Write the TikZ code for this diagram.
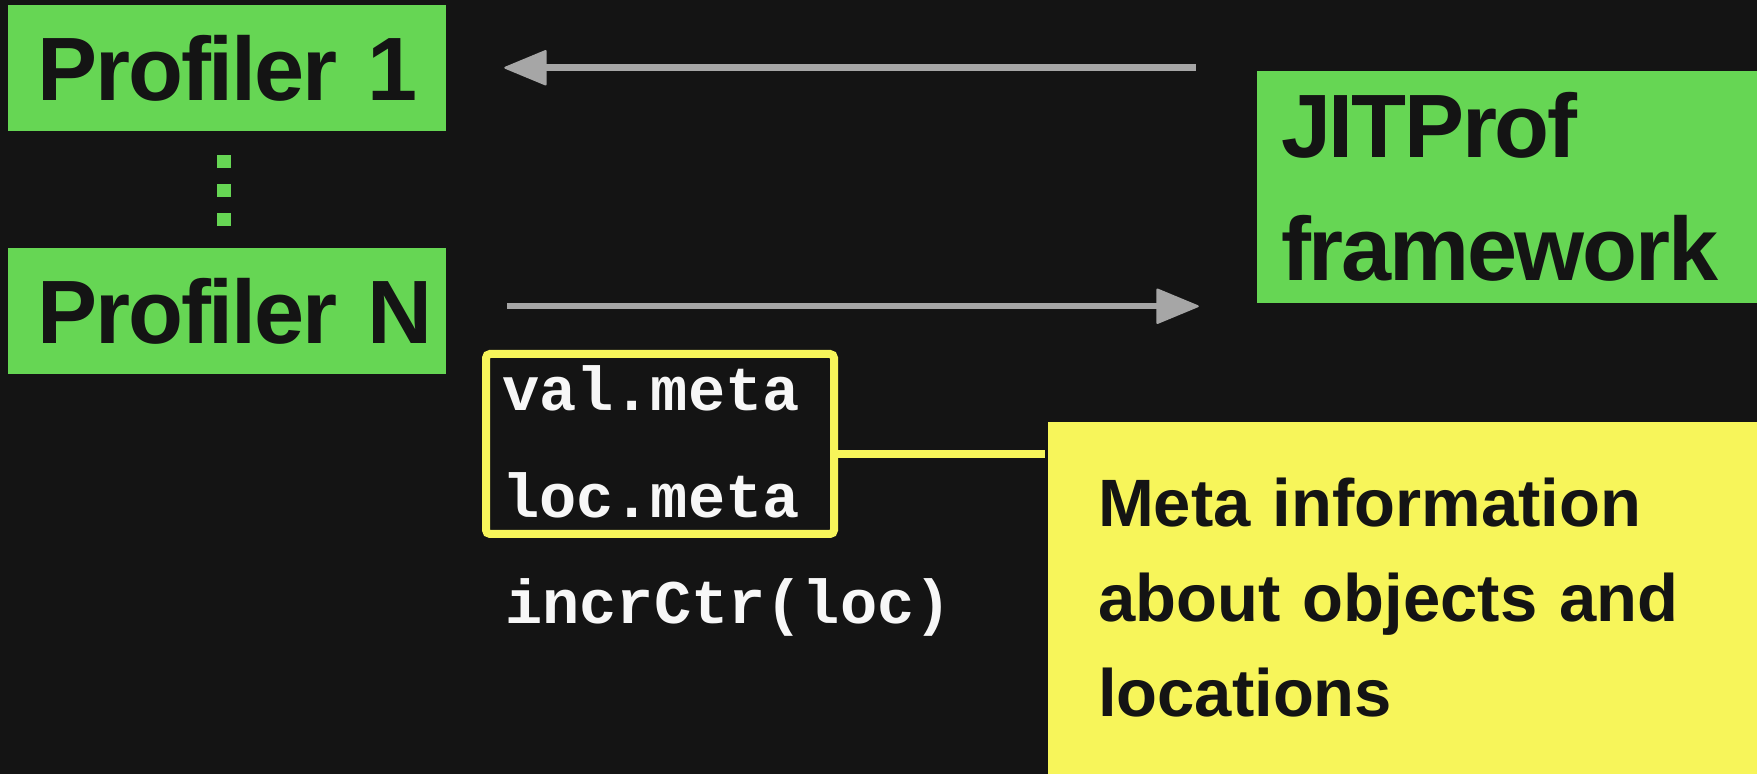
\documentclass[tikz,border=0pt]{standalone}
\usepackage{fontspec}
\setmainfont{Liberation Sans}
\setmonofont{Liberation Mono}
\newfontfamily\headfont{Liberation Sans}[LetterSpace=-2.5]
\usepackage{xcolor}
\definecolor{bgdark}{HTML}{141414}
\definecolor{profgreen}{HTML}{66D654}
\definecolor{noteyellow}{HTML}{F7F55A}
\definecolor{arrowgrey}{HTML}{A6A6A6}
\definecolor{codewhite}{HTML}{F7F7F7}
\usetikzlibrary{arrows.meta,positioning}

\begin{document}
\begin{tikzpicture}[>={Triangle[length=22pt,width=18pt,line width=1pt,round]},line width=3.25pt]
    \tikzstyle{prof}=[fill=profgreen,text=bgdark,font=\headfont\bfseries\fontsize{45pt}{61.5pt}\selectfont,
                      inner xsep=15pt,inner ysep=0pt,text width=189pt,align=left,
                      minimum height=63pt,text height=32.2pt,text depth=0pt]
    \tikzstyle{flow}=[->,draw=arrowgrey]
    \tikzstyle{code}=[text=codewhite,font=\ttfamily\bfseries\fontsize{31pt}{53.5pt}\selectfont]

    % background and page size
    \path[use as bounding box,fill=bgdark] (0,0) rectangle (878.5pt,-387pt);

    \node[prof] (p1) at (113.5pt,-34pt) {Profiler~1};
    \node[prof] (pN) [below=55.5pt of p1] {Profiler~N};
    \node[prof,inner xsep=12pt,text width=226pt,minimum height=116pt,text depth=61.5pt] (jit) at (753.5pt,-93.5pt) {JITProf\\framework};

    % vertical ellipsis between the profilers
    \draw[profgreen,line width=7pt,dash pattern=on 6.5pt off 8pt,shorten <=10.5pt,shorten >=9.5pt]
        ([xshift=-1.5pt]p1.south) -- ([xshift=-1.5pt]pN.north);

    \draw[flow] ([xshift=-29pt]jit.north west) -- ([xshift=27.5pt]jit.north west -| p1.east);
    \draw[flow] ([xshift=29pt]jit.south west -| pN.east) -- ([xshift=-27.5pt]jit.south west);

    \node[code,draw=noteyellow,line width=4pt,rounded corners=2pt,minimum width=174pt,minimum height=90pt,
          inner xsep=8pt,text width=158pt,align=left,text height=20pt,text depth=53.5pt]
          (meta) at (330pt,-222pt) {val.meta\\loc.meta};
    \node[code,anchor=base west,inner sep=0pt] (incr) at (251pt,-312pt) {incrCtr(loc)};

    \node[fill=noteyellow,text=bgdark,font=\bfseries\fontsize{33.5pt}{47.5pt}\selectfont,
          minimum width=354.5pt,minimum height=176pt,inner xsep=25pt,text width=304.5pt,align=left,
          text height=24pt,text depth=95pt]
          (note) at (701.25pt,-299pt) {Meta information\\about objects and\\locations};

    \draw[noteyellow,line width=4pt] ([yshift=-5pt]meta.east) -- ([yshift=-5pt]meta.east -| note.west);
\end{tikzpicture}
\end{document}
